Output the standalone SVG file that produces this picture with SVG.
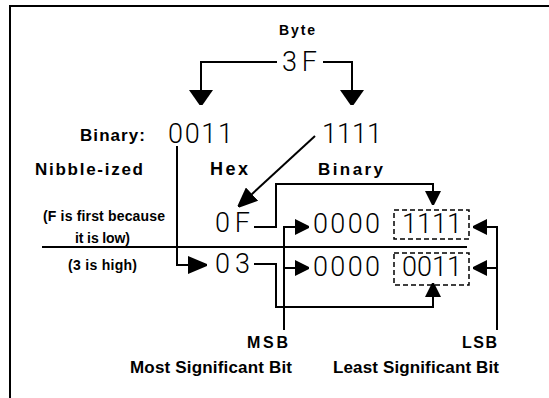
<svg xmlns="http://www.w3.org/2000/svg" width="549" height="398" viewBox="0 0 549 398">
<style>
  .lbl { font-family: "Liberation Sans", Arial, sans-serif; font-weight: bold; fill: #000; }
  .big { font-family: Roboto, "Liberation Sans", Arial, sans-serif; font-weight: 300; font-size: 27px; fill: #000; }
  .ln { fill: none; stroke: #000; stroke-width: 2; }
  .box { fill: none; stroke: #000; stroke-width: 1.5; stroke-dasharray: 5 3; }
</style>
<defs>
  <marker id="ab" markerUnits="userSpaceOnUse" viewBox="0 0 15 24" markerWidth="15" markerHeight="24" refX="13" refY="12" orient="auto">
    <path d="M0,0 L15,10.5 L15,13.5 L0,24 Z" fill="#000"/>
  </marker>
  <marker id="am" markerUnits="userSpaceOnUse" viewBox="0 0 19 18" markerWidth="19" markerHeight="18" refX="17" refY="9" orient="auto">
    <path d="M0,0 L19,8 L19,10 L0,18 Z" fill="#000"/>
  </marker>
  <marker id="as" markerUnits="userSpaceOnUse" viewBox="0 0 14 16" markerWidth="14" markerHeight="16" refX="12" refY="8" orient="auto">
    <path d="M0,0 L14,7 L14,9 L0,16 Z" fill="#000"/>
  </marker>
</defs>
<rect width="549" height="398" fill="#fff"/>
<g id="frame">
  <path class="ln" d="M10,398 V6 H549"/>
</g>
<g id="byte">
  <text class="lbl" x="279" y="35" font-size="14" textLength="36">Byte</text>
  <text class="big" x="282" y="71" textLength="35">3F</text>
</g>
<g id="row-labels">
  <text class="lbl" x="80" y="141" font-size="17" textLength="65">Binary:</text>
  <text class="lbl" x="35" y="175" font-size="17" textLength="108">Nibble-ized</text>
  <text class="lbl" x="210" y="175" font-size="18" textLength="38">Hex</text>
  <text class="lbl" x="318" y="175" font-size="17" textLength="65">Binary</text>
</g>
<g id="nibble-high">
  <text class="big" x="168" y="143" textLength="65">0011</text>
</g>
<g id="nibble-low">
  <text class="big" x="322" y="143" textLength="60">1111</text>
</g>
<g id="notes">
  <text class="lbl" x="43" y="221" font-size="14" textLength="122">(F is first because</text>
  <text class="lbl" x="75" y="243" font-size="14" textLength="55">it is low)</text>
  <text class="lbl" x="68" y="270" font-size="14" textLength="69">(3 is high)</text>
</g>
<g id="hex-0F">
  <text class="big" x="215" y="232" textLength="35">0F</text>
</g>
<g id="hex-03">
  <text class="big" x="215" y="273" textLength="35">03</text>
</g>
<g id="byte-low">
  <text class="big" x="313" y="233" textLength="67">0000</text>
  <rect class="box" x="394" y="210" width="75" height="29"/>
  <text class="big" x="402" y="233" textLength="60">1111</text>
</g>
<g id="byte-high">
  <text class="big" x="313" y="276" textLength="67">0000</text>
  <rect class="box" x="394" y="253" width="75" height="32"/>
  <text class="big" x="402" y="276" textLength="60">0011</text>
</g>
<g id="msb">
  <text class="lbl" x="247" y="348" font-size="16" textLength="41">MSB</text>
  <text class="lbl" x="130" y="373" font-size="17" textLength="162">Most Significant Bit</text>
</g>
<g id="lsb">
  <text class="lbl" x="462" y="348" font-size="16" textLength="35">LSB</text>
  <text class="lbl" x="333" y="373" font-size="17" textLength="166">Least Significant Bit</text>
</g>
<g id="connectors">
  <path class="ln" d="M277,62 H201 V103" marker-end="url(#ab)"/>
  <path class="ln" d="M323,62 H352 V103" marker-end="url(#ab)"/>
  <path class="ln" d="M315,136 L239.5,205.6" marker-end="url(#am)"/>
  <path class="ln" d="M177,146 V265 H205" marker-end="url(#am)"/>
  <path class="ln" d="M254,227 H276 V184 H433 V203" marker-end="url(#as)"/>
  <path class="ln" d="M254,264 H276 V307 H433 V285" marker-end="url(#as)"/>
  <path class="ln" d="M284,330 V227 H307" marker-end="url(#as)"/>
  <path class="ln" d="M284,268 H307" marker-end="url(#as)"/>
  <path class="ln" d="M497,330 V227 H475" marker-end="url(#as)"/>
  <path class="ln" d="M497,268 H475" marker-end="url(#as)"/>
  <path class="ln" d="M42,247 H467"/>
</g>
</svg>
